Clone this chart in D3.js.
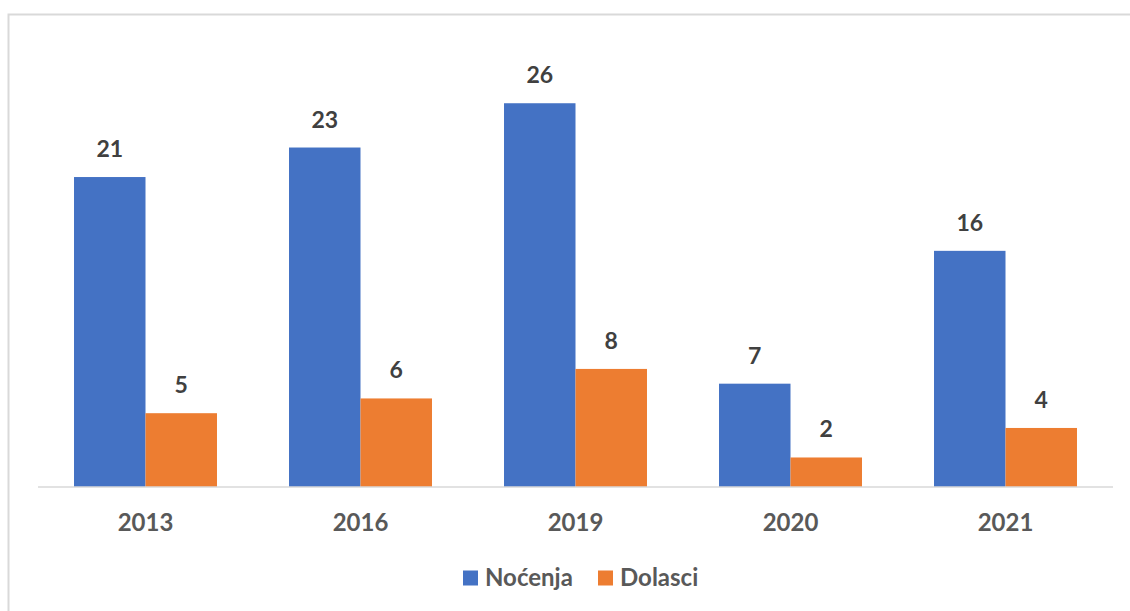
<!DOCTYPE html>
<html>
<head>
<meta charset="utf-8">
<script src="https://cdn.jsdelivr.net/npm/d3@7"></script>
<style>
    body { margin: 0; background: #ffffff; }
    svg text { font-family: Lato, "Open Sans", sans-serif; font-weight: bold; }
</style>
</head>
<body>
<svg id="bar-chart"></svg>
<script>
// Chart data
const years = ["2013", "2016", "2019", "2020", "2021"];
const series_names = ["Noćenja", "Dolasci"];
const nocenja_values = [21, 23, 26, 7, 16];
const dolasci_values = [5, 6, 8, 2, 4];
const series_colors = ["#4472C4", "#ED7D31"];

// Build a flat dataset for the bars
const bar_data = [];
years.forEach((year, i) => {
    bar_data.push({ year: year, series: series_names[0], value: nocenja_values[i] });
    bar_data.push({ year: year, series: series_names[1], value: dolasci_values[i] });
});

// Dimensions
const chart_width = 1130, chart_height = 611;
const plot_left = 38, plot_right = 1113, plot_bottom = 487;

const svg = d3.select("#bar-chart")
    .attr("width", chart_width)
    .attr("height", chart_height);

// Light gray frame (its right and bottom edges fall outside the picture)
svg.append("rect")
    .attr("x", 8.5)
    .attr("y", 14.5)
    .attr("width", 1140)
    .attr("height", 620)
    .style("fill", "none")
    .style("stroke", "#d9d9d9")
    .style("stroke-width", 2);

// Scales
const x_scale = d3.scaleBand()
    .domain(years)
    .range([plot_left, plot_right])
    .paddingInner(0.335)
    .paddingOuter(0.1675);
const x_inner = d3.scaleBand()
    .domain(series_names)
    .range([0, x_scale.bandwidth()]);
const y_scale = d3.scaleLinear()
    .domain([0, 30])
    .range([plot_bottom, 44.2]);
const color_scale = d3.scaleOrdinal()
    .domain(series_names)
    .range(series_colors);

// Bars
svg.append("g")
    .selectAll("rect")
    .data(bar_data)
    .join("rect")
    .attr("x", d => x_scale(d.year) + x_inner(d.series))
    .attr("y", d => y_scale(d.value))
    .attr("width", x_inner.bandwidth())
    .attr("height", d => y_scale(0) - y_scale(d.value))
    .style("fill", d => color_scale(d.series));

// Value labels above the bars
svg.append("g")
    .selectAll("text")
    .data(bar_data)
    .join("text")
    .attr("x", d => x_scale(d.year) + x_inner(d.series) + x_inner.bandwidth() / 2)
    .attr("y", d => y_scale(d.value) - 20)
    .attr("text-anchor", "middle")
    .style("font-size", "23px")
    .style("fill", "#404040")
    .text(d => d.value);

// X axis
const x_axis = svg.append("g")
    .attr("transform", `translate(0, ${plot_bottom})`)
    .call(d3.axisBottom(x_scale).tickSize(0).tickPadding(27));
x_axis.select(".domain")
    .attr("d", `M${plot_left},0H${plot_right}`)
    .style("stroke", "#d9d9d9")
    .style("stroke-width", 1.5);
x_axis.selectAll("text")
    .style("font-family", "Lato, 'Open Sans', sans-serif")
    .style("font-weight", "bold")
    .style("font-size", "24px")
    .style("fill", "#595959");

// Legend
const legend_items = [
    { name: series_names[0], x: 463 },
    { name: series_names[1], x: 598 }
];
const legend = svg.append("g");
legend.selectAll("rect")
    .data(legend_items)
    .join("rect")
    .attr("x", d => d.x)
    .attr("y", 570.5)
    .attr("width", 15)
    .attr("height", 15)
    .style("fill", d => color_scale(d.name));
legend.selectAll("text")
    .data(legend_items)
    .join("text")
    .attr("x", d => d.x + 22)
    .attr("y", 585.5)
    .style("font-size", "24px")
    .style("fill", "#595959")
    .text(d => d.name);
</script>
</body>
</html>
